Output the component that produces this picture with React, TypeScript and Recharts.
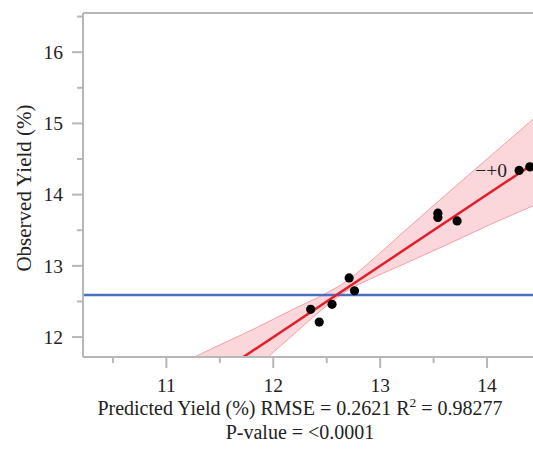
import React from "react";
import {
  ComposedChart,
  XAxis,
  YAxis,
  Scatter,
  Line,
  Area,
  ReferenceLine,
  ReferenceDot,
  Label,
} from "recharts";

// Observed vs predicted points
const predicted = [12.35, 12.43, 12.55, 12.71, 12.76, 13.54, 13.54, 13.72, 14.3, 14.4];
const observed = [12.39, 12.21, 12.46, 12.83, 12.65, 13.74, 13.68, 13.63, 14.34, 14.39];

// Fit line endpoints
const fitX = [11.0, 14.6];
const fitY = [11.0, 14.6];

// Confidence band edges
const bandX = [11.0, 11.4, 11.8, 12.2, 12.5, 12.7, 12.9, 13.2, 13.6, 14.0, 14.6];
const bandLow = [10.48, 11.0, 11.52, 12.05, 12.44, 12.66, 12.81, 13.01, 13.28, 13.56, 13.95];
const bandHigh = [11.53, 11.82, 12.1, 12.4, 12.62, 12.8, 13.05, 13.45, 13.98, 14.5, 15.28];

// Mean observed line
const meanObserved = 12.59;

const xTicks = [10.5, 11, 11.5, 12, 12.5, 13, 13.5, 14];
const yTicks = [12, 12.5, 13, 13.5, 14, 14.5, 15, 15.5, 16, 16.5];
const xDomain = [10.22, 14.43];
const yDomain = [11.72, 16.55];

const pointData = predicted.map((x, i) => ({ x, y: observed[i] }));
const fitData = fitX.map((x, i) => ({ x, y: fitY[i] }));
const bandData = bandX.map((x, i) => ({ x, band: [bandLow[i], bandHigh[i]] }));

const FONT = "'Liberation Serif', 'DejaVu Serif', serif";
const AXIS = "#b7b7b7";
const TEXT = "#222";

const YTick = (props: any) => {
  const { x, y, payload } = props;
  const major = Number.isInteger(payload.value);
  return (
    <g>
      <line x1={x - (major ? 11 : 6)} x2={x} y1={y} y2={y} stroke={AXIS} strokeWidth={2} />
      {major && (
        <text x={x - 20} y={y} dy="0.35em" textAnchor="end" fontSize={19.5} fill={TEXT} fontFamily={FONT}>
          {payload.value}
        </text>
      )}
    </g>
  );
};

const XTick = (props: any) => {
  const { x, y, payload } = props;
  const major = Number.isInteger(payload.value);
  return (
    <g>
      <line x1={x} x2={x} y1={y} y2={y + (major ? 11 : 6)} stroke={AXIS} strokeWidth={2} />
      {major && (
        <text x={x} y={y + 35} textAnchor="middle" fontSize={19.5} fill={TEXT} fontFamily={FONT}>
          {payload.value}
        </text>
      )}
    </g>
  );
};

const XTitle = (props: any) => {
  const vb = props.viewBox;
  const cx = vb.x + vb.width / 2 - 8;
  return (
    <g fontFamily={FONT} fill={TEXT} fontSize={20}>
      <text x={cx} y={vb.y + 58} textAnchor="middle">
        <tspan>Predicted Yield (%) RMSE = 0.2621 R</tspan>
        <tspan dy={-8} fontSize={13.5}>2</tspan>
        <tspan dy={8}> = 0.98277</tspan>
      </text>
      <text x={cx} y={vb.y + 82} textAnchor="middle">
        P-value = &lt;0.0001
      </text>
    </g>
  );
};

const YTitle = (props: any) => {
  const vb = props.viewBox;
  const cy = vb.y + vb.height / 2 + 3;
  const cx = 24;
  return (
    <text
      x={cx}
      y={cy}
      transform={`rotate(-90 ${cx} ${cy})`}
      textAnchor="middle"
      dy="0.35em"
      fontSize={21}
      fill={TEXT}
      fontFamily={FONT}
    >
      Observed Yield (%)
    </text>
  );
};

export default function App() {
  return (
    <div style={{ position: "absolute", left: 0, top: 0, background: "#fff" }}>
      <ComposedChart
        width={533}
        height={451}
        margin={{ top: 13, right: 0, bottom: 0, left: 0 }}
      >
        <XAxis
          type="number"
          dataKey="x"
          domain={xDomain}
          ticks={xTicks}
          allowDataOverflow
          interval={0}
          tickSize={0}
          tickMargin={0}
          tick={<XTick />}
          height={94}
          stroke={AXIS}
          strokeWidth={2}
        >
          <Label content={<XTitle />} />
        </XAxis>
        <YAxis
          type="number"
          dataKey="y"
          domain={yDomain}
          ticks={yTicks}
          allowDataOverflow
          interval={0}
          tickSize={0}
          tickMargin={0}
          tick={<YTick />}
          width={83}
          stroke={AXIS}
          strokeWidth={2}
        >
          <Label content={<YTitle />} />
        </YAxis>
        <ReferenceLine y={yDomain[1]} stroke={AXIS} strokeWidth={2} />
        <Area
          data={bandData}
          dataKey="band"
          type="monotone"
          fill="#f9c6cd"
          fillOpacity={0.7}
          stroke="#f2a0ab"
          strokeWidth={1}
          isAnimationActive={false}
          activeDot={false}
          dot={false}
        />
        <ReferenceLine y={meanObserved} stroke="#4a6fc0" strokeWidth={2.5} />
        <Line
          data={fitData}
          dataKey="y"
          type="linear"
          stroke="#e0202c"
          strokeWidth={2.5}
          dot={false}
          activeDot={false}
          isAnimationActive={false}
        />
        <Scatter data={pointData} dataKey="y" fill="#000" isAnimationActive={false} shape={(p: any) => <circle cx={p.cx} cy={p.cy} r={4.6} fill="#000" />} />
        <ReferenceDot
          x={predicted[8]}
          y={observed[8]}
          r={0}
          stroke="none"
          label={{ value: "−+0", position: "left", offset: 12, fontSize: 19.5, fill: TEXT, fontFamily: FONT }}
        />
      </ComposedChart>
    </div>
  );
}
